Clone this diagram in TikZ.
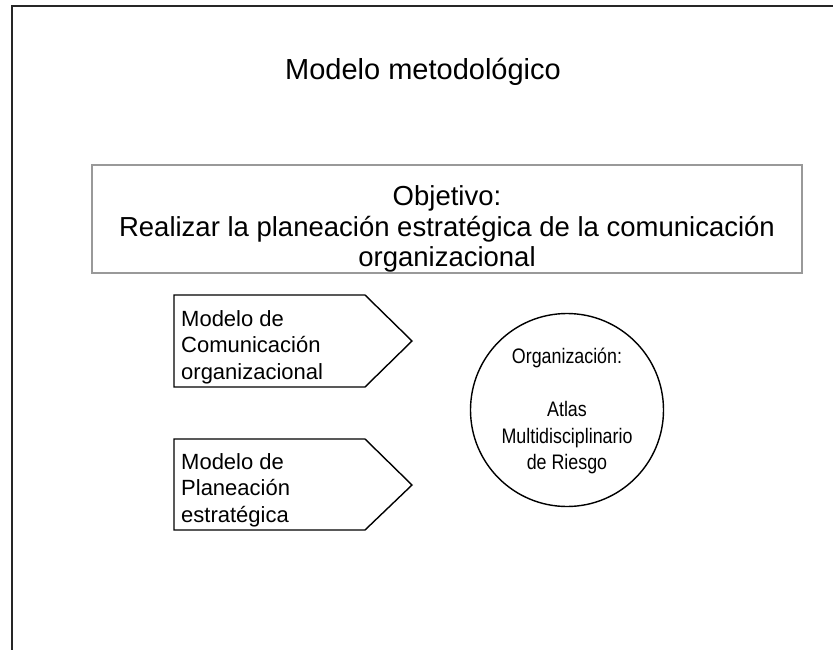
\documentclass[tikz,border=0pt]{standalone}
\usepackage{fontspec}
\setmainfont{Liberation Sans}
\newfontfamily\narrowsans[FakeStretch=0.85]{Liberation Sans}
\begin{document}
\begin{tikzpicture}[x=1pt,y=-1pt,
  frameline/.style={draw=black!85,line width=2pt},
  objbox/.style={draw=black!40,line width=1.3pt,minimum width=710pt,minimum height=108pt,inner sep=0pt},
  pent/.style={draw=black,line width=1.4pt,line join=miter},
  orgcircle/.style={draw=black,line width=1.4pt,circle,minimum size=193pt,inner sep=0pt},
  titletext/.style={font=\fontsize{29}{34}\selectfont,inner sep=0pt},
  objtext/.style={font=\fontsize{27.5}{30.5}\selectfont,align=center,inner sep=0pt},
  smalltext/.style={font=\fontsize{22}{26.5}\selectfont,inner sep=0pt},
  circtext/.style={font=\narrowsans\fontsize{21}{26.5}\selectfont,inner sep=0pt}
]
\useasboundingbox (0,0) rectangle (833,650);
% frame
\coordinate (fTR) at (833,6);
\coordinate (fTL) at (12,6);
\coordinate (fBL) at (12,650);
\draw[frameline] (fTR) -- (fTL) -- (fBL);
% title
\node[titletext] (title) at (423,72) {Modelo metodológico};
% objective
\node[objbox] (obj) at (447,219) {};
\node[objtext] (objt) at (447,229) {Objetivo:\\Realizar la planeación estratégica de la comunicación\\organizacional};
% pentagon 1
\coordinate (p1a) at (174,295);
\coordinate (p1b) at (365,295);
\coordinate (p1c) at (412,341);
\coordinate (p1d) at (365,387);
\coordinate (p1e) at (174,387);
\draw[pent] (p1a) -- (p1b) -- (p1c) -- (p1d) -- (p1e) -- cycle;
\node[smalltext,align=left,anchor=west] (t1) at (181,347) {Modelo de\\Comunicación\\organizacional};
% pentagon 2
\coordinate (p2a) at (174,439);
\coordinate (p2b) at (365,439);
\coordinate (p2c) at (412,485);
\coordinate (p2d) at (365,530);
\coordinate (p2e) at (174,530);
\draw[pent] (p2a) -- (p2b) -- (p2c) -- (p2d) -- (p2e) -- cycle;
\node[smalltext,align=left,anchor=west] (t2) at (181,490) {Modelo de\\Planeación\\estratégica};
% circle
\node[orgcircle] (org) at (567,410) {};
\node[circtext,align=center] (orgt) at (567,411) {Organización:\\\mbox{}\\Atlas\\Multidisciplinario\\de Riesgo};
\end{tikzpicture}
\end{document}
